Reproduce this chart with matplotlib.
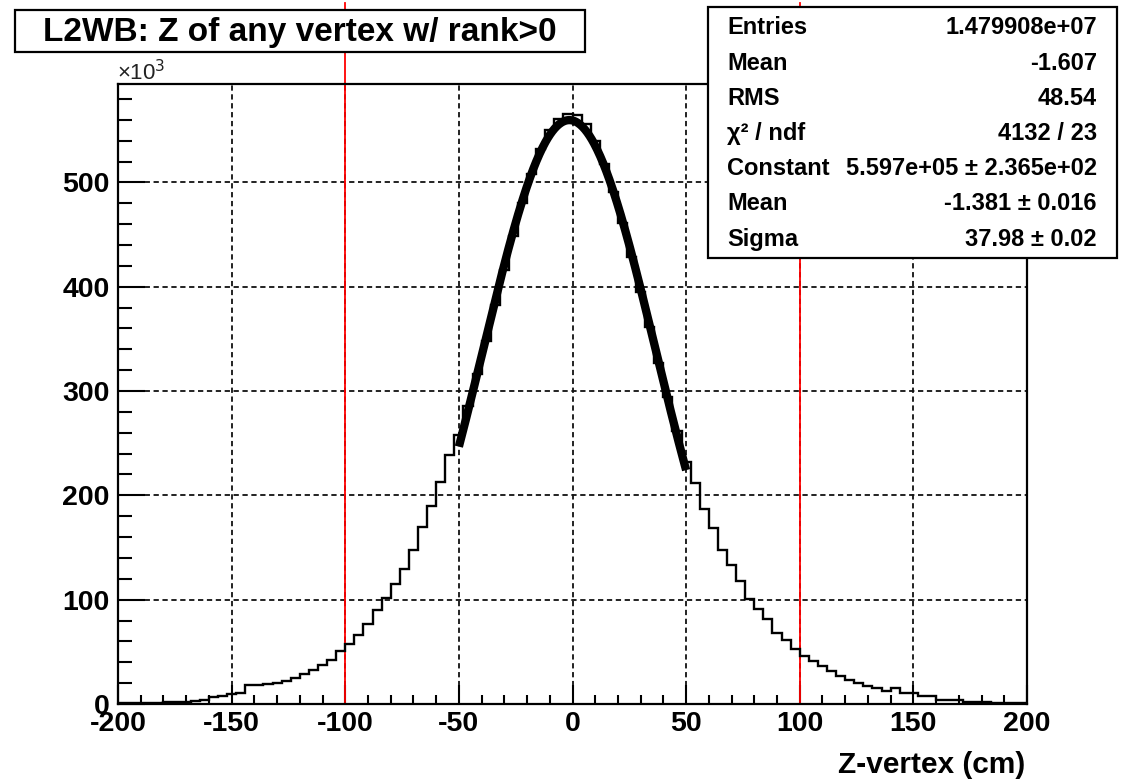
import numpy as np
import matplotlib
matplotlib.use("Agg")
import matplotlib.pyplot as plt
from matplotlib.patches import Rectangle
from matplotlib.ticker import MultipleLocator

plt.rcParams["font.family"] = ["Liberation Sans", "DejaVu Sans"]
plt.rcParams["lines.scale_dashes"] = False

# Histogram: 100 bins of 4 cm from -200 to 200, counts in thousands
bin_lo, bin_hi, bin_w = -200, 200, 4
counts_left_k = [
    0.8, 1.0, 1.1, 1.2, 1.4, 1.5, 1.7, 2.2, 3.1, 3.5,
    6.8, 7.5, 9.8, 10.4, 18.2, 18.5, 18.8, 19.8, 22.4, 25.2,
    29.0, 32.5, 37.5, 41.8, 50.5, 57.7, 65.7, 76.3, 89.7, 101.9,
    115.4, 129.8, 148.0, 169.9, 189.7, 212.5, 238.5,
]
counts_core_k = [
    258, 286, 316, 348, 382, 416, 449, 480, 508, 532,
    550, 561, 566, 565, 556, 540, 518, 491, 461, 428,
    395, 361, 327, 294, 262, 232,
]
counts_right_k = [
    212, 186.5, 169, 148, 133.7, 117.6, 101, 91.3, 81.7, 68.3,
    60.9, 52.9, 46.0, 41.2, 36.5, 31.5, 27.0, 23.4, 20.2, 17.6,
    15.4, 12.8, 15.0, 10.5, 10.1, 7.6, 7.2, 4.0, 3.7, 3.4,
    2.2, 1.8, 1.6, 1.4, 1.2, 1.0, 0.8,
]

# Gaussian fit parameters and fit range
fit_const = 5.597e5
fit_mean = -1.381
fit_sigma = 37.98
fit_range = (-50, 50)

# Vertical cut lines
cut_positions = [-100, 100]

title = "L2WB: Z of any vertex w/ rank>0"
xlabel = "Z-vertex (cm)"
stats_labels = ["Entries", "Mean", "RMS", "\u03c7\u00b2 / ndf", "Constant", "Mean", "Sigma"]
stats_values = ["1.479908e+07", "-1.607", "48.54", "4132 / 23",
                "5.597e+05 \u00b1 2.365e+02", "-1.381 \u00b1 0.016", "37.98 \u00b1 0.02"]

counts_k = np.array(counts_left_k + counts_core_k + counts_right_k)
edges = np.arange(bin_lo, bin_hi + bin_w, bin_w)

W, H = 1121, 779
fig = plt.figure(figsize=(W / 100, H / 100), dpi=100)
fig.patch.set_facecolor("white")

def fx(px):
    return px / W

def fy(py):
    return 1 - py / H

ax_l, ax_r, ax_t, ax_b = 118, 1027, 84, 704
ax = fig.add_axes([fx(ax_l), fy(ax_b), fx(ax_r - ax_l), (ax_b - ax_t) / H])

ymax = counts_k.max() * 1.05
ax.set_xlim(bin_lo, bin_hi)
ax.set_ylim(0, ymax)

# grid
grid_kw = dict(color="#111111", lw=1.3, dashes=(3.8, 2.6), zorder=1)
for gx in [-150, -100, -50, 0, 50, 100, 150]:
    ax.plot([gx, gx], [0, ymax], **grid_kw)
for gy in [100, 200, 300, 400, 500]:
    ax.plot([bin_lo, bin_hi], [gy, gy], **grid_kw)

# cut lines reaching above the frame
for cx in cut_positions:
    ax.plot([cx, cx], [0, 672], color="red", lw=1.3, clip_on=False, zorder=1.6)

# histogram
ax.stairs(counts_k, edges, color="black", lw=1.7, baseline=0, zorder=3)

# fitted gaussian
xf = np.linspace(fit_range[0], fit_range[1], 300)
yf = fit_const * np.exp(-0.5 * ((xf - fit_mean) / fit_sigma) ** 2) / 1e3
ax.plot(xf, yf, color="black", lw=6.0, solid_capstyle="butt", zorder=4)

# axes styling
for s in ax.spines.values():
    s.set_linewidth(1.6)
    s.set_zorder(5)
ax.xaxis.set_major_locator(MultipleLocator(50))
ax.xaxis.set_minor_locator(MultipleLocator(10))
ax.yaxis.set_major_locator(MultipleLocator(100))
ax.yaxis.set_minor_locator(MultipleLocator(20))
ax.tick_params(axis="both", which="both", direction="in", top=False, right=False,
               width=1.5, labelsize=20)
ax.tick_params(axis="x", which="major", length=13.4, pad=5)
ax.tick_params(axis="x", which="minor", length=6.5)
ax.tick_params(axis="y", which="major", length=19.5, pad=6)
ax.tick_params(axis="y", which="minor", length=9.8)
ax.set_xticks([-200, -150, -100, -50, 0, 50, 100, 150, 200])
ax.set_xticklabels(["-200", "-150", "-100", "-50", "0", "50", "100", "150", "200"],
                   fontweight="bold", fontsize=20.5)
ax.set_yticks([0, 100, 200, 300, 400, 500])
ax.set_yticklabels(["0", "100", "200", "300", "400", "500"], fontweight="bold",
                   fontsize=20.5)

# exponent marker
fig.text(fx(117), fy(80), "\u00d710$^3$", fontsize=16, ha="left", va="baseline",
         color="#222222")

# x-axis title
fig.text(fx(1025), fy(773), xlabel, fontsize=21.5, fontweight="bold", ha="right",
         va="baseline")

# title box
fig.patches.append(Rectangle((fx(15), fy(52)), fx(570), 42 / H, transform=fig.transFigure,
                             facecolor="white", edgecolor="black", lw=1.6, zorder=6))
fig.text(fx(300), fy(32), title, fontsize=24, fontweight="bold", ha="center",
         va="center", zorder=7)

# statistics box
bx0, by0, bx1, by1 = 708, 7, 1117, 258
fig.patches.append(Rectangle((fx(bx0), fy(by1)), fx(bx1 - bx0), (by1 - by0) / H,
                             transform=fig.transFigure, facecolor="white",
                             edgecolor="black", lw=1.6, zorder=6))
row_y0, row_step = 28, 35.2
for i, (lab, val) in enumerate(zip(stats_labels, stats_values)):
    yc = row_y0 + row_step * i
    fig.text(fx(727), fy(yc), lab, fontsize=17, fontweight="bold", ha="left",
             va="center", zorder=7)
    fig.text(fx(1097), fy(yc), val, fontsize=17, fontweight="bold", ha="right",
             va="center", zorder=7)

fig.savefig("out.png", dpi=100)
